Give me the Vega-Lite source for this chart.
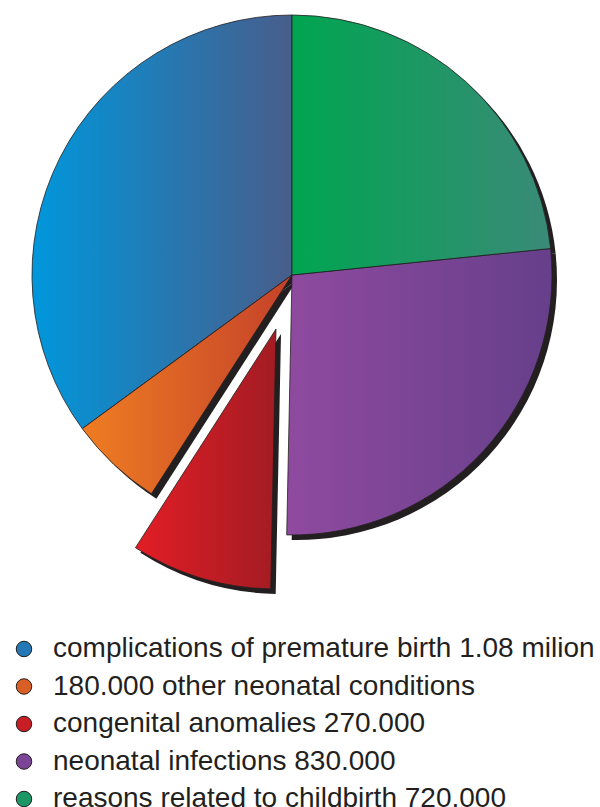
{
  "$schema": "https://vega.github.io/schema/vega-lite/v6.json",
  "width": 584,
  "height": 550,
  "padding": {"left": 0, "top": 0, "right": 16, "bottom": 257},
  "autosize": {"type": "none"},
  "background": "white",
  "config": {"view": {"stroke": null}},
  "data": {
    "values": [
      {"cause": "complications of premature birth 1.08 milion", "value": 1080, "order": 5},
      {"cause": "180.000 other neonatal conditions", "value": 180, "order": 4},
      {"cause": "congenital anomalies 270.000", "value": 270, "order": 3},
      {"cause": "neonatal infections 830.000", "value": 830, "order": 2},
      {"cause": "reasons related to childbirth 720.000", "value": 720, "order": 1}
    ]
  },
  "transform": [
    {"stack": "value", "groupby": [], "sort": [{"field": "order", "order": "ascending"}], "as": ["v0", "v1"]}
  ],
  "encoding": {
    "theta": {"field": "v1", "type": "quantitative", "stack": null, "scale": {"nice": false, "zero": true}},
    "theta2": {"field": "v0"}
  },
  "layer": [
    {
      "mark": {"type": "arc", "radius": 260, "opacity": 0, "stroke": "#231f20", "strokeWidth": 1},
      "encoding": {
        "color": {"field": "cause", "type": "nominal",
          "scale": {"domain": [
            "complications of premature birth 1.08 milion",
            "180.000 other neonatal conditions",
            "congenital anomalies 270.000",
            "neonatal infections 830.000",
            "reasons related to childbirth 720.000"
          ], "range": ["#2478b5", "#da5f26", "#c81d25", "#7b4595", "#1b9765"]},
          "legend": {
            "orient": "none", "legendX": 10, "legendY": 635, "title": null,
            "symbolType": "circle", "symbolSize": 240, "symbolOpacity": 1,
            "symbolStrokeColor": "#231f20", "symbolStrokeWidth": 1,
            "labelFont": "Liberation Sans", "labelFontSize": 28, "labelColor": "#231f20",
            "labelOffset": 15, "rowPadding": 9.5, "labelLimit": 600
          }
        }
      }
    },
    {
      "transform": [{"filter": "datum.order != 3"}],
      "mark": {"type": "arc", "radius": 260, "fill": "#231f20", "xOffset": 5, "yOffset": 5}
    },
    {
      "transform": [{"filter": "datum.order == 3"}],
      "mark": {"type": "arc", "radius": 260, "fill": "#231f20", "xOffset": -11, "yOffset": 59}
    },
    {
      "transform": [{"filter": "datum.order == 5"}],
      "mark": {"type": "arc", "radius": 260, "stroke": "#231f20", "strokeWidth": 0.8,
        "fill": {"gradient": "linear", "x1": 0, "y1": 0, "x2": 1, "y2": 0, "stops": [{"offset": 0, "color": "#0097dc"}, {"offset": 1, "color": "#485d8b"}]}}
    },
    {
      "transform": [{"filter": "datum.order == 4"}],
      "mark": {"type": "arc", "radius": 260, "stroke": "#231f20", "strokeWidth": 0.8,
        "fill": {"gradient": "linear", "x1": 0, "y1": 0, "x2": 1, "y2": 0, "stops": [{"offset": 0, "color": "#ef7d22"}, {"offset": 1, "color": "#c4412a"}]}}
    },
    {
      "transform": [{"filter": "datum.order == 2"}],
      "mark": {"type": "arc", "radius": 260, "stroke": "#231f20", "strokeWidth": 0.8,
        "fill": {"gradient": "linear", "x1": 0, "y1": 0, "x2": 1, "y2": 0, "stops": [{"offset": 0, "color": "#8f4a9f"}, {"offset": 1, "color": "#663f8a"}]}}
    },
    {
      "transform": [{"filter": "datum.order == 1"}],
      "mark": {"type": "arc", "radius": 260, "stroke": "#231f20", "strokeWidth": 0.8,
        "fill": {"gradient": "linear", "x1": 0, "y1": 0, "x2": 1, "y2": 0, "stops": [{"offset": 0, "color": "#00a551"}, {"offset": 1, "color": "#3a8a77"}]}}
    },
    {
      "transform": [{"filter": "datum.order == 3"}],
      "mark": {"type": "arc", "radius": 260, "stroke": "#231f20", "strokeWidth": 0.8, "xOffset": -16, "yOffset": 54,
        "fill": {"gradient": "linear", "x1": 0, "y1": 0, "x2": 1, "y2": 0, "stops": [{"offset": 0, "color": "#e31d26"}, {"offset": 1, "color": "#a31c23"}]}}
    }
  ]
}
